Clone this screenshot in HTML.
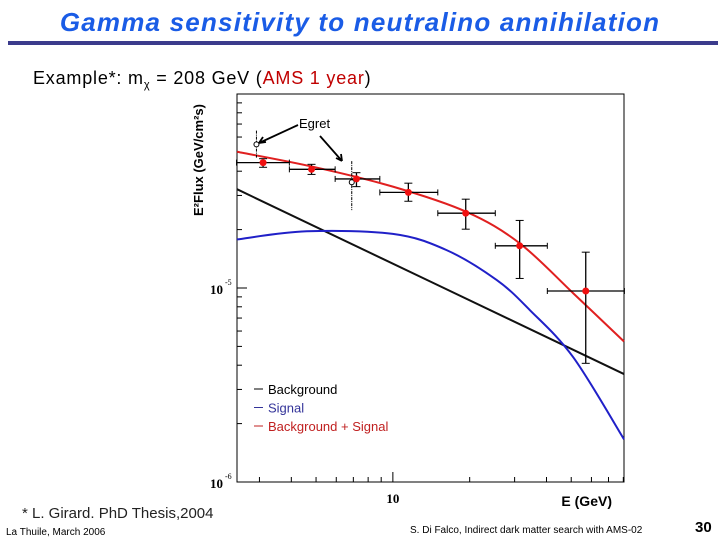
<!DOCTYPE html>
<html><head><meta charset="utf-8"><style>
body{margin:0;width:720px;height:540px;background:#fff;overflow:hidden;font-family:"Liberation Sans",sans-serif;}
svg{display:block}
</style></head><body>
<svg id="s" width="720" height="540" viewBox="0 0 720 540">
<text x="360" y="31" text-anchor="middle" font-size="26" font-weight="bold" font-style="italic" fill="#1a5ce6" font-family="Liberation Sans, sans-serif" letter-spacing="1.2">Gamma sensitivity to neutralino annihilation</text>
<rect x="8" y="41" width="710" height="4" fill="#3b3b8c"/>
<text x="33" y="84" font-size="18" fill="#000" letter-spacing="0.8">Example*: m<tspan font-size="11" dy="4">χ</tspan><tspan dy="-4"> = 208 GeV (</tspan><tspan fill="#c00000">AMS  1 year</tspan>)</text>
<text x="203" y="160" font-size="13" font-weight="bold" text-anchor="middle" transform="rotate(-90 203 160)">E²Flux (GeV/cm²s)</text>
<text x="612" y="506" font-size="14" font-weight="bold" text-anchor="end">E (GeV)</text>
<text x="22" y="518" font-size="15" fill="#222">* L. Girard. PhD Thesis,2004</text>
<text x="6" y="535" font-size="10">La Thuile, March 2006</text>
<text x="410" y="533" font-size="10">S. Di Falco, Indirect dark matter search with AMS-02</text>
<text x="695" y="532" font-size="15" font-weight="bold">30</text>
<g id="plot"></g>
</svg>
<script>
const ptE=[3.1,4.8,7.2,11.5,19.3,31.4,57];
const ptLo=[2.44,3.93,5.94,8.89,15.0,25.2,40.3];
const ptHi=[3.93,5.94,8.89,15.0,25.2,40.3,80.8];
const ptV=[4.43e-5,4.09e-5,3.65e-5,3.11e-5,2.43e-5,1.65e-5,0.965e-5];
const ptErrHi=[4.64e-5,4.34e-5,3.93e-5,3.47e-5,2.87e-5,2.23e-5,1.53e-5];
const ptErrLo=[4.19e-5,3.85e-5,3.33e-5,2.80e-5,2.01e-5,1.12e-5,0.409e-5];
const egE=[2.92,6.9];
const egV=[5.5e-5,3.51e-5];
const egHi=[6.47e-5,4.51e-5];
const egLo=[4.66e-5,2.52e-5];
const bgE=[2.45,80.5];
const bgV=[3.23e-5,3.6e-6];
const sigE=[2.45,4.6,10,16.2,25.5,34.4,50.9,80.5];
const sigV=[1.78e-5,1.96e-5,1.90e-5,1.57e-5,1.10e-5,7.7e-6,4.4e-6,1.66e-6];
const totE=[2.45,4.85,10,19.4,31.4,50.9,80.5];
const totV=[5.04e-5,4.22e-5,3.33e-5,2.47e-5,1.70e-5,9.4e-6,5.3e-6];
const L=237,R=624,T=94,B=482,xmin=2.45,xmax=80.5,ymin=1e-6,ymax=1e-4;
const X=e=>L+(Math.log10(e)-Math.log10(xmin))/(Math.log10(xmax)-Math.log10(xmin))*(R-L);
const Y=v=>B-(Math.log10(v)-Math.log10(ymin))/(Math.log10(ymax)-Math.log10(ymin))*(B-T);
const g=document.getElementById('plot');const NS='http://www.w3.org/2000/svg';
function mk(t,a,p){const e=document.createElementNS(NS,t);for(const k in a)e.setAttribute(k,a[k]);(p||g).appendChild(e);return e;}
let f=mk('rect',{x:L,y:T,width:R-L,height:B-T,fill:'none',stroke:'#000','stroke-width':1});


for(let d=-6;d<-4;d++)for(let m=1;m<10;m++){const v=m*Math.pow(10,d);const y=Y(v);const len=m===1?10:5;
 let t=mk('line',{x1:L,x2:L+len,y1:y,y2:y,stroke:'#000'});
 
 }
[-6,-5].forEach(d=>{const y=Y(Math.pow(10,d));
 let t=mk('text',{x:223,y:y+6,'text-anchor':'end','font-size':13,'font-weight':'bold','font-family':'Liberation Serif, serif'});t.textContent='10';
 
 
 let s=mk('text',{x:225,y:y-3,'font-size':8,'font-family':'Liberation Serif, serif'});s.textContent=String(d);
 
 });
[3,4,5,6,7,8,9,10,20,30,40,50,60,70,80].forEach(v=>{const x=X(v);const len=v===10?10:5;
 let t=mk('line',{x1:x,x2:x,y1:B,y2:B-len,stroke:'#000'});
 
 });
let xl=mk('text',{x:X(10),y:503,'text-anchor':'middle','font-size':13,'font-weight':'bold','font-family':'Liberation Serif, serif'});xl.textContent='10';


function smooth(E,V){const p=E.map((e,i)=>[X(e),Y(V[i])]);let d='M'+p[0][0]+','+p[0][1];
 for(let i=0;i<p.length-1;i++){const p0=p[i-1]||p[i],p1=p[i],p2=p[i+1],p3=p[i+2]||p2;
 d+=` C${p1[0]+(p2[0]-p0[0])/6},${p1[1]+(p2[1]-p0[1])/6} ${p2[0]-(p3[0]-p1[0])/6},${p2[1]-(p3[1]-p1[1])/6} ${p2[0]},${p2[1]}`;}return d;}
let c1=mk('path',{d:smooth(bgE,bgV),fill:'none',stroke:'#111','stroke-width':2});


let c2=mk('path',{d:smooth(sigE,sigV),fill:'none',stroke:'#2020c8','stroke-width':2});


let c3=mk('path',{d:smooth(totE,totV),fill:'none',stroke:'#e02020','stroke-width':2});


egE.forEach((e,i)=>{const x=X(e);
 let l=mk('line',{x1:x,x2:x,y1:Y(egHi[i]),y2:Y(egLo[i]),stroke:'#000','stroke-dasharray':'3,1,1,1'});
 
 
 let c=mk('circle',{cx:x,cy:Y(egV[i]),r:2.5,fill:'#fff',stroke:'#000'});
 
 });
ptE.forEach((e,i)=>{const x=X(e),y=Y(ptV[i]);
 let h=mk('line',{x1:X(ptLo[i]),x2:X(ptHi[i]),y1:y,y2:y,stroke:'#000','stroke-width':1.3});
 
 
 [ptLo[i],ptHi[i]].forEach(b=>{let k=mk('line',{x1:X(b),x2:X(b),y1:y-3,y2:y+3,stroke:'#000'});
  
  });
 let v=mk('line',{x1:x,x2:x,y1:Y(ptErrHi[i]),y2:Y(ptErrLo[i]),stroke:'#000','stroke-width':1.3});
 
 
 [ptErrHi[i],ptErrLo[i]].forEach(b=>{let k=mk('line',{x1:x-4,x2:x+4,y1:Y(b),y2:Y(b),stroke:'#000'});
  
  });
 let c=mk('circle',{cx:x,cy:y,r:3.5,fill:'#f01010'});
 
 });
let et=mk('text',{x:299,y:128,'font-size':13});et.textContent='Egret';


let a1=mk('path',{d:'M298,125 L259,143 M259,143 l7,-1 M259,143 l4,-6',stroke:'#000','stroke-width':1.8,fill:'none'});


let a2=mk('path',{d:'M320,136 L342,161 M342,161 l-1,-7 M342,161 l-6,-3',stroke:'#000','stroke-width':1.8,fill:'none'});


[['Background','#000'],['Signal','#333399'],['Background + Signal','#c02020']].forEach((it,i)=>{const y=389+i*18.5;
 let l=mk('line',{x1:254,x2:263,y1:y,y2:y,stroke:it[1]});
 
 
 let t=mk('text',{x:268,y:y+5,'font-size':13,fill:it[1]});t.textContent=it[0];
 
 });
</script>
</body></html>
